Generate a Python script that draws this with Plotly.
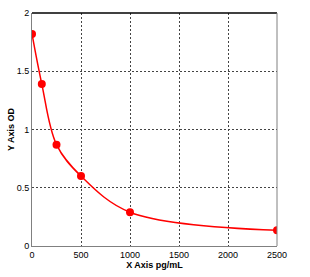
import plotly.graph_objects as go

conc = [0, 100, 250, 500, 1000, 2500]
od = [1.82, 1.39, 0.87, 0.60, 0.29, 0.135]
x_ticks = [0, 500, 1000, 1500, 2000, 2500]
y_ticks = [0, 0.5, 1, 1.5, 2]
y_tick_text = ["0", "0.5", "1", "1.5", "2"]

fig = go.Figure()
fig.add_trace(go.Scatter(
    x=conc, y=od, mode="lines",
    line=dict(color="#ff0000", width=1.5, shape="spline", smoothing=1.0),
    hoverinfo="skip", showlegend=False))
fig.add_trace(go.Scatter(
    x=conc, y=od, mode="markers",
    marker=dict(color="#ff0000", size=8),
    showlegend=False))

font = dict(family="Liberation Sans, Arial, sans-serif", size=9, color="#000")
fig.update_layout(
    width=310, height=277,
    margin=dict(l=32, r=33, t=8, b=31),
    paper_bgcolor="white", plot_bgcolor="white",
    font=font,
    xaxis=dict(range=[0, 2500], tickvals=x_ticks, ticks="", showline=True,
               linecolor="#808080", linewidth=1, mirror=False,
               showgrid=True, gridcolor="#444", griddash="2px,2px", gridwidth=1,
               zeroline=False,
               title=dict(text="<b>X Axis pg/mL</b>", standoff=2, font=dict(size=9)),
               ticklabelstandoff=0),
    yaxis=dict(range=[0, 2], tickvals=y_ticks, ticktext=y_tick_text, ticks="",
               showline=True, linecolor="#808080", linewidth=1,
               showgrid=True, gridcolor="#444", griddash="2px,2px", gridwidth=1,
               zeroline=False,
               title=dict(text="<b>Y Axis OD</b>", standoff=0, font=dict(size=9))),
)
# top and right frame
fig.add_shape(type="line", xref="paper", yref="paper", x0=0, x1=1, y0=1, y1=1,
              line=dict(color="#000", width=1.5))
fig.add_shape(type="line", xref="paper", yref="paper", x0=1, x1=1, y0=0, y1=1,
              line=dict(color="#808080", width=1))
fig.write_html("out.html")
